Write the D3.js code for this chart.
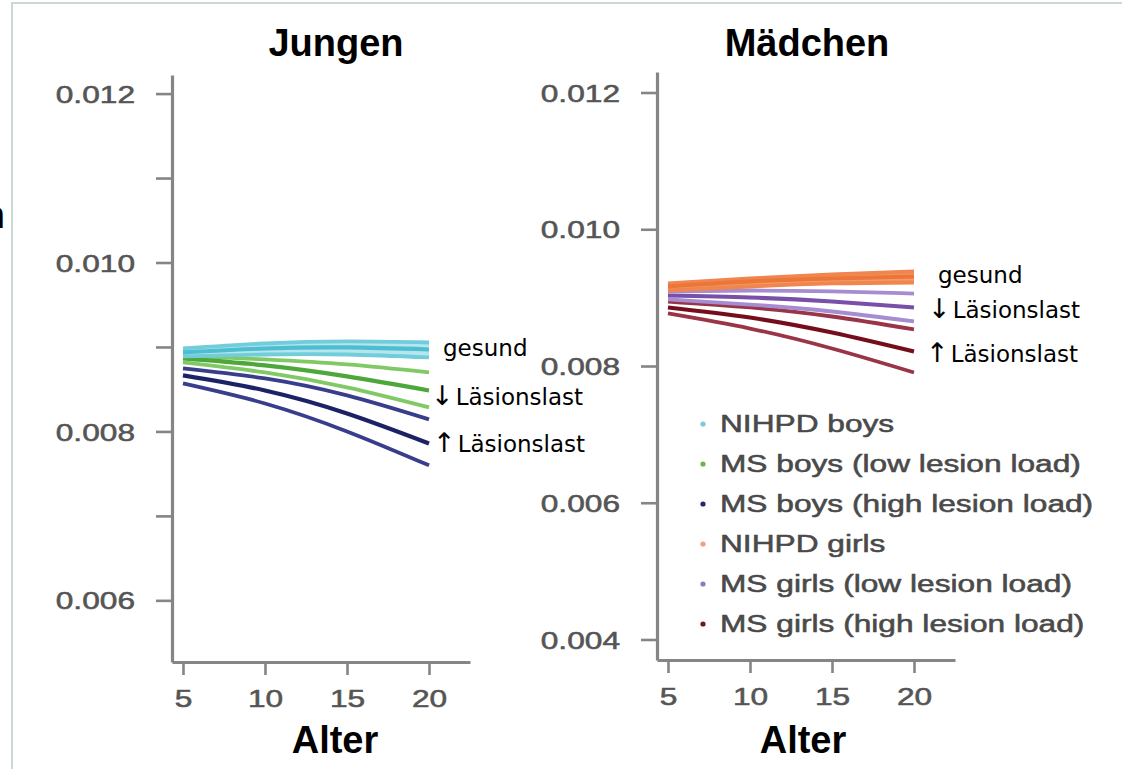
<!DOCTYPE html>
<html><head><meta charset="utf-8">
<script src="https://cdn.jsdelivr.net/npm/d3@7"></script>
<style>body{margin:0;background:#fff;} svg{display:block}</style>
</head><body>
<svg id="c" width="1122" height="769"></svg>
<script>
// ---------- data ----------
const ages = [5, 10, 15, 20];
// Jungen (boys)
const nihpdBoysHi   = [0.008982, 0.009041, 0.009065, 0.009053];
const nihpdBoysMid  = [0.008935, 0.008982, 0.008994, 0.008970];
const nihpdBoysLo   = [0.008888, 0.008911, 0.008911, 0.008876];
const msBoysLowHi   = [0.008899, 0.008852, 0.008793, 0.008698];
const msBoysLowMid  = [0.008864, 0.008781, 0.008651, 0.008485];
const msBoysLowLo   = [0.008817, 0.008698, 0.008521, 0.008284];
const msBoysHighHi  = [0.008746, 0.008627, 0.008426, 0.008142];
const msBoysHighMid = [0.008663, 0.008485, 0.008213, 0.007858];
const msBoysHighLo  = [0.008568, 0.008331, 0.008000, 0.007598];
// Mädchen (girls)
const nihpdGirlsHi   = [0.009207, 0.009280, 0.009338, 0.009382];
const nihpdGirlsMid  = [0.009163, 0.009236, 0.009280, 0.009309];
const nihpdGirlsLo   = [0.009104, 0.009163, 0.009207, 0.009221];
const msGirlsLowHi   = [0.009090, 0.009104, 0.009090, 0.009060];
const msGirlsLowMid  = [0.009031, 0.009002, 0.008943, 0.008856];
const msGirlsLowLo   = [0.008973, 0.008899, 0.008797, 0.008651];
const msGirlsHighHi  = [0.008943, 0.008856, 0.008724, 0.008534];
const msGirlsHighMid = [0.008856, 0.008709, 0.008490, 0.008212];
const msGirlsHighLo  = [0.008768, 0.008548, 0.008256, 0.007905];

const xTicks = [5, 10, 15, 20];
const leftYTicks = [0.006, 0.007, 0.008, 0.009, 0.010, 0.011, 0.012];
const leftYLabelled = [0.006, 0.008, 0.010, 0.012];
const rightYTicks = [0.004, 0.006, 0.008, 0.010, 0.012];
const legendLabels = ["NIHPD boys", "MS boys (low lesion load)", "MS boys (high lesion load)",
  "NIHPD girls", "MS girls (low lesion load)", "MS girls (high lesion load)"];
const panelTitles = ["Jungen", "Mädchen"];
const xTitle = "Alter";
const annoArrows = ["", "\u2193", "\u2191"];
const annoLabels = ["gesund", "Läsionslast", "Läsionslast"];

// ---------- styles ----------
const legendColors = ["#7cc9dc", "#66b84e", "#262a6a", "#f2a07c", "#9079bf", "#6e1a1c"];
const SX = 1.32;                 // horizontal stretch of the original figure's text
const axisColor = "#858585";
const tickTextColor = "#555";

const svg = d3.select("#c");
svg.append("rect").attr("width", 1122).attr("height", 769).attr("fill", "#fff");
// frame
svg.append("path").attr("d", "M12,769V3H1122").attr("fill", "none")
  .attr("stroke", "#c9d9d9").attr("stroke-width", 2);
// clipped label fragment at left edge (as in the reference)
svg.append("text").attr("x", 5).attr("y", 228).attr("text-anchor", "end")
  .attr("font-family", "Liberation Sans, Arial, sans-serif").attr("font-weight", "bold")
  .attr("font-size", 38).attr("fill", "#000").text("n");

const defs = svg.append("defs");
defs.append("filter").attr("id", "soft").append("feGaussianBlur").attr("stdDeviation", 0.6);

function drawPanel(cfg) {
  const x = d3.scaleLinear().domain([4.33, 22.5]).range([cfg.x0, cfg.x1]);
  const y = d3.scaleLinear().domain(cfg.yDomain).range([cfg.yBottom, cfg.yTop]);
  const g = svg.append("g");

  // y axis
  const ya = g.append("g").attr("transform", `translate(${cfg.x0},0)`)
    .call(d3.axisLeft(y).tickValues(cfg.yTicks).tickSize(16).tickSizeOuter(0)
      .tickFormat(d => cfg.yLabelled.some(v => Math.abs(v - d) < 1e-9) ? d3.format(".3f")(d) : ""));
  // x axis
  const xa = g.append("g").attr("transform", `translate(0,${cfg.yBottom})`)
    .call(d3.axisBottom(x).tickValues(xTicks).tickSize(13).tickSizeOuter(0));
  [ya, xa].forEach(a => {
    a.select(".domain").attr("stroke", axisColor).attr("stroke-width", 3.2);
    a.selectAll(".tick line").attr("stroke", axisColor).attr("stroke-width", 2.6);
    a.selectAll("text").attr("font-family", "Liberation Sans, Arial, sans-serif")
      .attr("font-size", 24).attr("fill", tickTextColor)
      .attr("stroke", tickTextColor).attr("stroke-width", 0.55);
  });
  ya.selectAll("text").attr("x", -37 / SX).attr("dy", "0.36em").attr("transform", `scale(${SX},1)`);
  xa.selectAll("text").attr("y", 45).attr("dy", 0).attr("transform", `scale(${SX},1)`);

  const line = d3.line().x((d, i) => x(ages[i])).y(d => y(d)).curve(d3.curveNatural);
  const area = d3.area().x((d, i) => x(ages[i])).y0(d => y(d[0])).y1(d => y(d[1])).curve(d3.curveNatural);

  const lg = g.append("g").attr("filter", "url(#soft)");
  cfg.groups.forEach(grp => {
    if (grp.band) {
      lg.append("path").datum(grp.hi.map((v, i) => [grp.lo[i], v]))
        .attr("d", area).attr("fill", grp.band);
    }
    [grp.hi, grp.lo].forEach(arr => lg.append("path").datum(arr).attr("d", line)
      .attr("fill", "none").attr("stroke", grp.bound).attr("stroke-width", 3.8));
    lg.append("path").datum(grp.mid).attr("d", line)
      .attr("fill", "none").attr("stroke", grp.mean).attr("stroke-width", 4.2);
  });

  // titles
  g.append("text").attr("x", cfg.titleX).attr("y", 56).attr("text-anchor", "middle")
    .attr("font-family", "Liberation Sans, Arial, sans-serif").attr("font-weight", "bold")
    .attr("font-size", 38).attr("fill", "#000").text(cfg.title);
  g.append("text").attr("x", cfg.alterX).attr("y", 753).attr("text-anchor", "middle")
    .attr("font-family", "Liberation Sans, Arial, sans-serif").attr("font-weight", "bold")
    .attr("font-size", 38).attr("fill", "#000").text(xTitle);

  // annotations
  cfg.anno.forEach((p, i) => {
    const t = g.append("text").attr("x", p[0]).attr("y", p[1])
      .attr("font-family", "DejaVu Sans, sans-serif")
      .attr("font-size", 23).attr("fill", "#000");
    if (annoArrows[i]) {
      t.append("tspan").attr("font-size", 27).attr("font-family", "DejaVu Sans, sans-serif")
        .text(annoArrows[i]);
      t.append("tspan").attr("dx", 2).text(annoLabels[i]);
    } else {
      t.text(annoLabels[i]);
    }
  });
  return {x, y, g};
}

drawPanel({
  x0: 172, x1: 470, yTop: 75, yBottom: 662, yDomain: [0.00527, 0.01222],
  yTicks: leftYTicks, yLabelled: leftYLabelled, title: panelTitles[0], titleX: 336, alterX: 335,
  anno: [[443, 356], [431, 405], [433, 452]],
  groups: [
    {hi: msBoysHighHi, mid: msBoysHighMid, lo: msBoysHighLo, mean: "#1c2466", bound: "#383e8c"},
    {hi: msBoysLowHi, mid: msBoysLowMid, lo: msBoysLowLo, mean: "#4ea83a", bound: "#80c965"},
    {hi: nihpdBoysHi, mid: nihpdBoysMid, lo: nihpdBoysLo, mean: "#4dbdcf", bound: "#72cddb", band: "#b5e5ee"}
  ]
});

drawPanel({
  x0: 657, x1: 955, yTop: 72, yBottom: 660, yDomain: [0.0037, 0.0123],
  yTicks: rightYTicks, yLabelled: rightYTicks, title: panelTitles[1], titleX: 807, alterX: 803,
  anno: [[938, 283], [928, 318], [926, 362]],
  groups: [
    {hi: msGirlsHighHi, mid: msGirlsHighMid, lo: msGirlsHighLo, mean: "#74101e", bound: "#9a3546"},
    {hi: msGirlsLowHi, mid: msGirlsLowMid, lo: msGirlsLowLo, mean: "#7a4fa8", bound: "#a68cd0"},
    {hi: nihpdGirlsHi, mid: nihpdGirlsMid, lo: nihpdGirlsLo, mean: "#ec7638", bound: "#f08550", band: "#f39a68"}
  ]
});

// legend
const leg = svg.append("g");
legendLabels.forEach((lab, i) => {
  const by = 432 + 40 * i;
  leg.append("circle").attr("cx", 703).attr("cy", by - 8).attr("r", 2.6).attr("fill", legendColors[i]);
  leg.append("text").attr("x", 720 / SX).attr("y", by).attr("transform", `scale(${SX},1)`)
    .attr("font-family", "Liberation Sans, Arial, sans-serif").attr("font-size", 24)
    .attr("fill", "#4a4a4a").attr("stroke", "#4a4a4a").attr("stroke-width", 0.55).text(lab);
});
</script>
</body></html>
